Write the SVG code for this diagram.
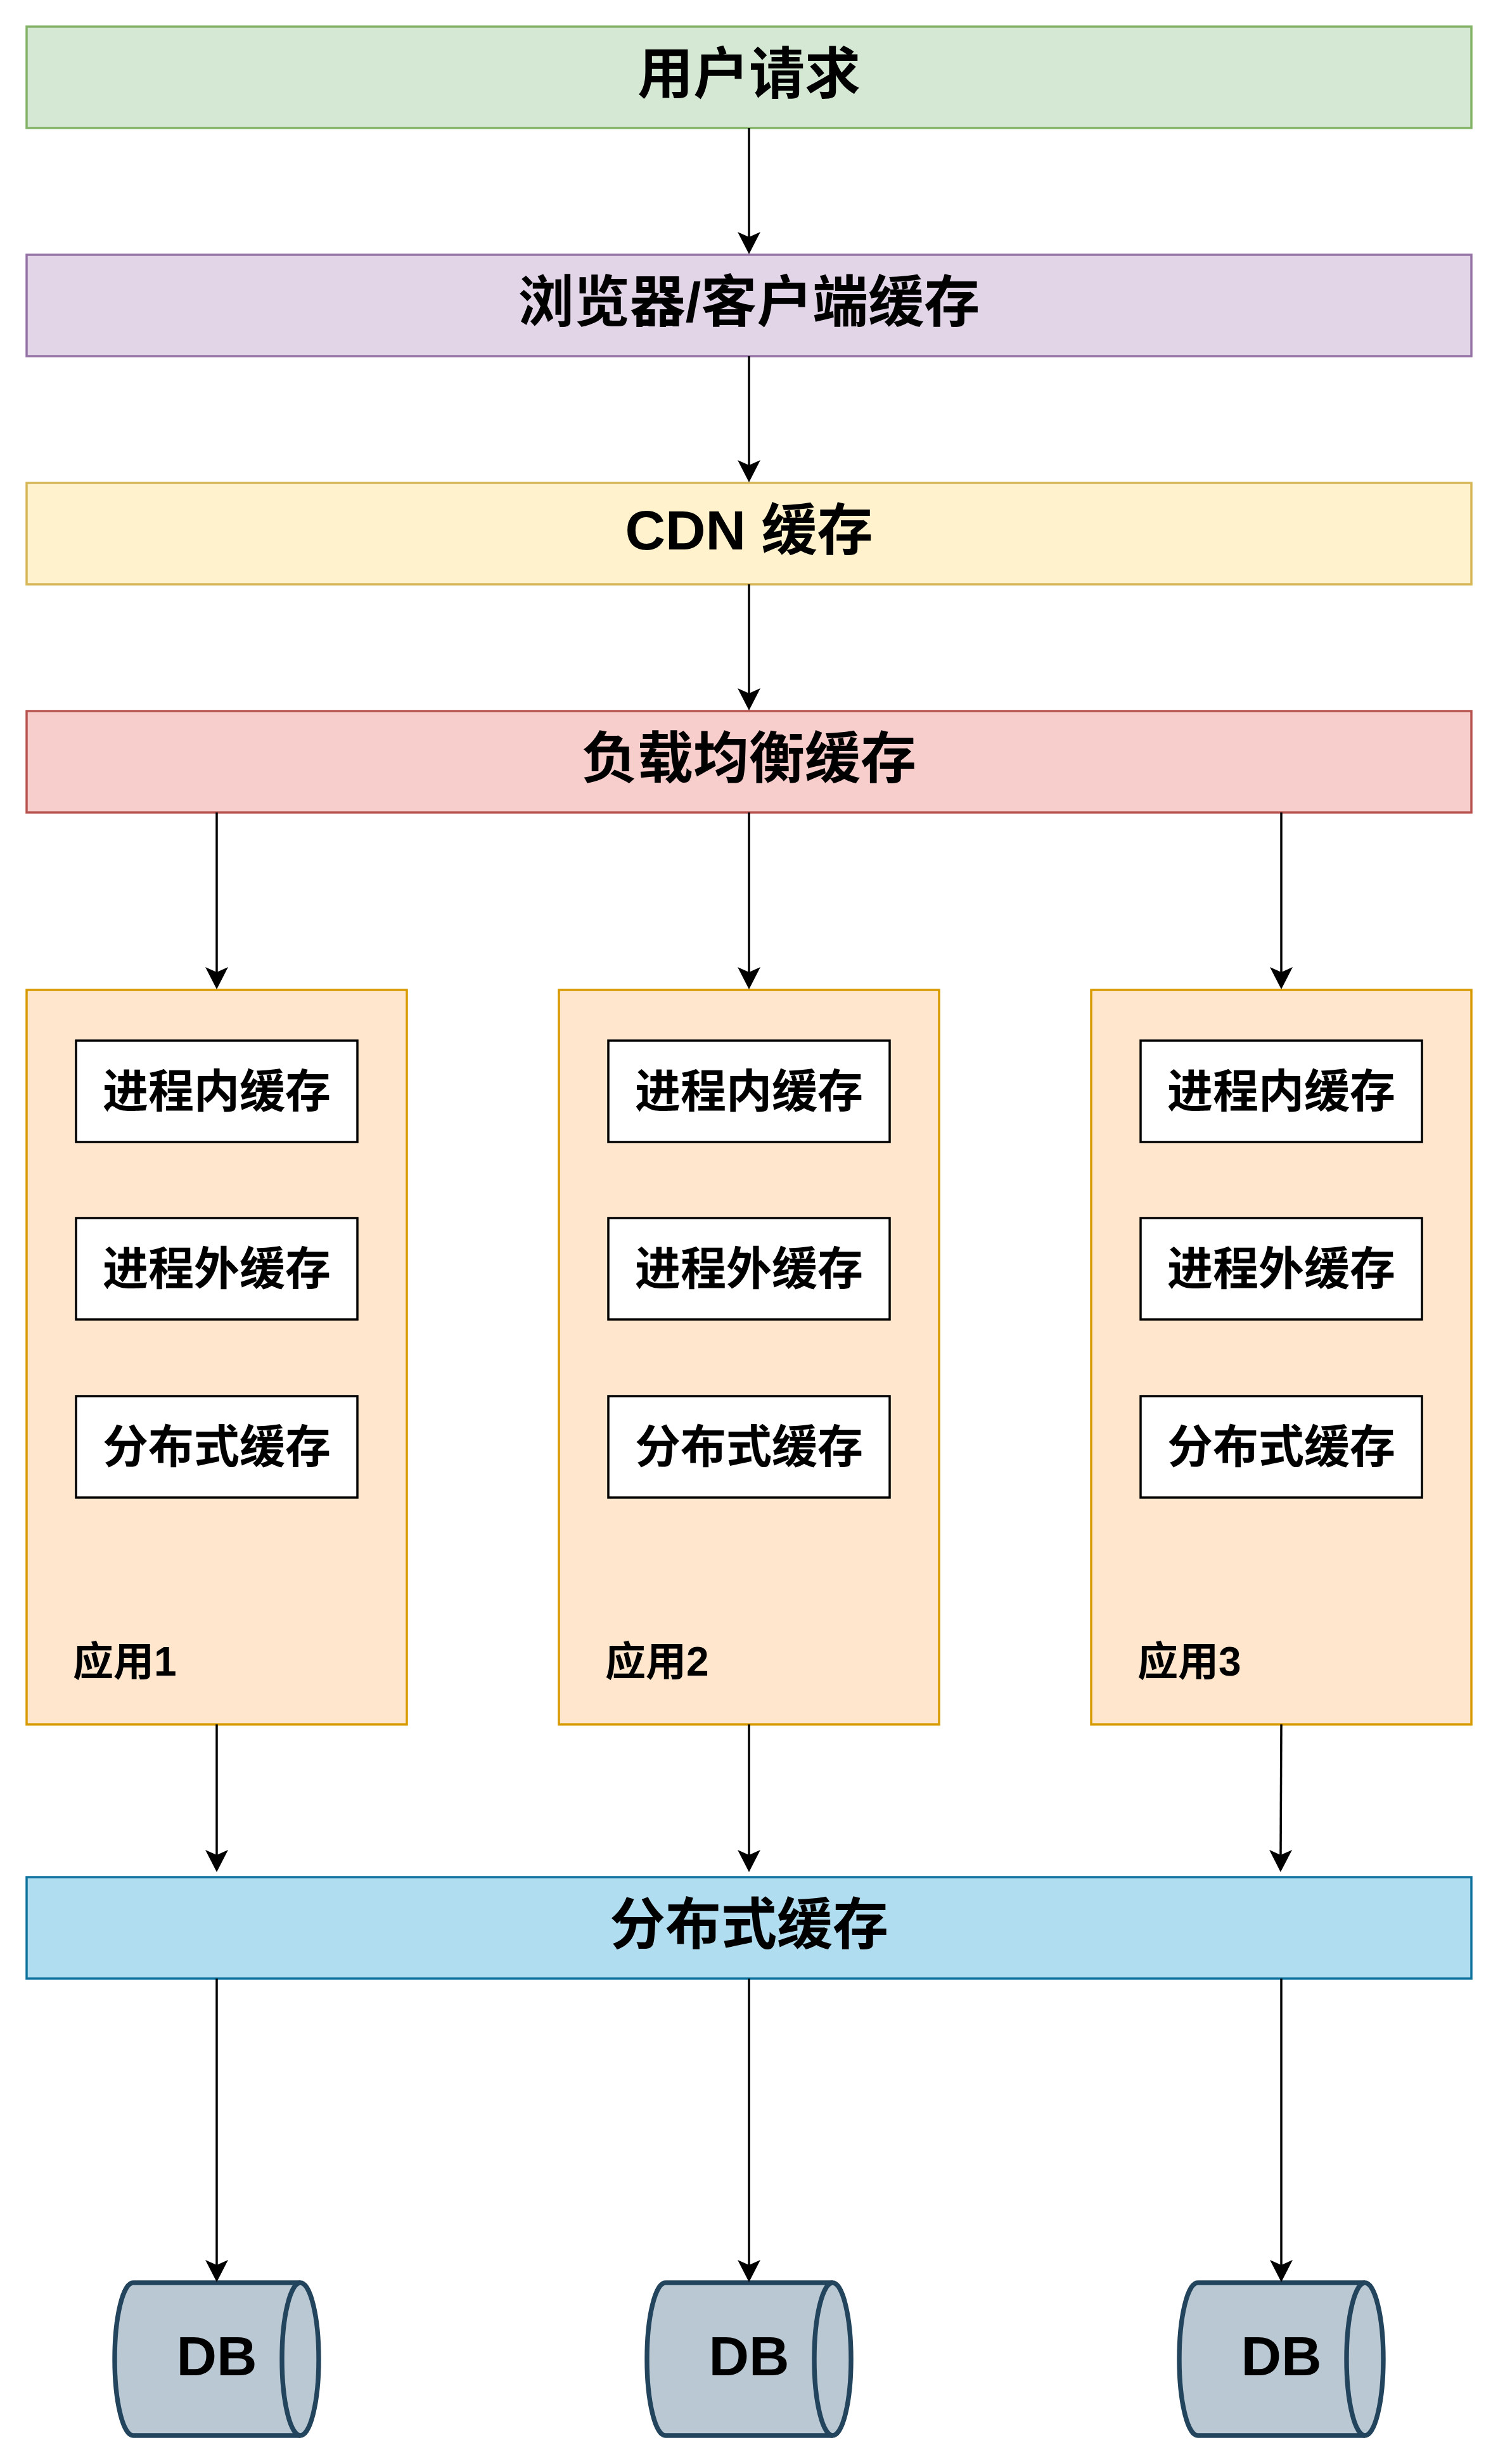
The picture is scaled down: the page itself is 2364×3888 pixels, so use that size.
<svg xmlns="http://www.w3.org/2000/svg" width="2364" height="3888" viewBox="0 0 2364 3888">
  <style>
    .t { font-family: "Liberation Sans", "Noto Sans CJK SC", sans-serif; font-weight: bold; fill: #000000; }
    .big { font-size: 88px; text-anchor: middle; }
    .mid { font-size: 72px; text-anchor: middle; }
    .lbl { font-size: 64px; }
    .box { stroke-width: 3.5; }
    .inner { fill: #ffffff; stroke: #000000; stroke-width: 3.5; }
    .app { fill: #ffe6cc; stroke: #d79b00; stroke-width: 3.5; }
    .db { fill: #bac8d3; stroke: #23445d; stroke-width: 7.4; stroke-linejoin: round; }
    .edge { fill: none; stroke: #000000; stroke-width: 3.5; marker-end: url(#arrow); }
  </style>
  <defs>
    <marker id="arrow" markerUnits="userSpaceOnUse" markerWidth="36" markerHeight="36" viewBox="0 0 36 36" refX="8" refY="18" orient="auto">
      <path d="M0,0 L35,18 L0,36 L8,18 Z" fill="#000000"/>
    </marker>
  </defs>
  <rect width="2364" height="3888" fill="#ffffff"/>

  <g id="user-request">
    <rect class="box" x="42" y="42" width="2280" height="160" fill="#d5e8d4" stroke="#82b366"/>
    <text class="t big" x="1182" y="147">用户请求</text>
  </g>
  <g id="browser-cache">
    <rect class="box" x="42" y="402" width="2280" height="160" fill="#e1d5e7" stroke="#9673a6"/>
    <text class="t big" x="1182" y="507">浏览器/客户端缓存</text>
  </g>
  <g id="cdn-cache">
    <rect class="box" x="42" y="762" width="2280" height="160" fill="#fff2cc" stroke="#d6b656"/>
    <text class="t big" x="1182" y="867">CDN 缓存</text>
  </g>
  <g id="lb-cache">
    <rect class="box" x="42" y="1122" width="2280" height="160" fill="#f8cecc" stroke="#b85450"/>
    <text class="t big" x="1182" y="1227">负载均衡缓存</text>
  </g>

  <g id="app1">
    <rect class="app" x="42" y="1562" width="600" height="1159"/>
    <text class="t lbl" x="115" y="2644">应用1</text>
  </g>
  <g id="app1-inproc">
    <rect class="inner" x="120" y="1642" width="444" height="160"/>
    <text class="t mid" x="342" y="1747">进程内缓存</text>
  </g>
  <g id="app1-outproc">
    <rect class="inner" x="120" y="1922" width="444" height="160"/>
    <text class="t mid" x="342" y="2027">进程外缓存</text>
  </g>
  <g id="app1-dist">
    <rect class="inner" x="120" y="2203" width="444" height="160"/>
    <text class="t mid" x="342" y="2308">分布式缓存</text>
  </g>

  <g id="app2">
    <rect class="app" x="882" y="1562" width="600" height="1159"/>
    <text class="t lbl" x="955" y="2644">应用2</text>
  </g>
  <g id="app2-inproc">
    <rect class="inner" x="960" y="1642" width="444" height="160"/>
    <text class="t mid" x="1182" y="1747">进程内缓存</text>
  </g>
  <g id="app2-outproc">
    <rect class="inner" x="960" y="1922" width="444" height="160"/>
    <text class="t mid" x="1182" y="2027">进程外缓存</text>
  </g>
  <g id="app2-dist">
    <rect class="inner" x="960" y="2203" width="444" height="160"/>
    <text class="t mid" x="1182" y="2308">分布式缓存</text>
  </g>

  <g id="app3">
    <rect class="app" x="1722" y="1562" width="600" height="1159"/>
    <text class="t lbl" x="1795" y="2644">应用3</text>
  </g>
  <g id="app3-inproc">
    <rect class="inner" x="1800" y="1642" width="444" height="160"/>
    <text class="t mid" x="2022" y="1747">进程内缓存</text>
  </g>
  <g id="app3-outproc">
    <rect class="inner" x="1800" y="1922" width="444" height="160"/>
    <text class="t mid" x="2022" y="2027">进程外缓存</text>
  </g>
  <g id="app3-dist">
    <rect class="inner" x="1800" y="2203" width="444" height="160"/>
    <text class="t mid" x="2022" y="2308">分布式缓存</text>
  </g>

  <g id="dist-cache">
    <rect class="box" x="42" y="2962" width="2280" height="160" fill="#b1ddf0" stroke="#10739e"/>
    <text class="t big" x="1182" y="3067">分布式缓存</text>
  </g>

  <g id="db1">
    <path class="db" d="M210,3602 L474,3602 A29,120.5 0 0 1 474,3843 L210,3843 A29,120.5 0 0 1 210,3602 Z"/>
    <path class="db" fill="none" d="M474,3602 A29,120.5 0 0 0 474,3843"/>
    <text class="t big" x="342" y="3748">DB</text>
  </g>
  <g id="db2">
    <path class="db" d="M1050,3602 L1314,3602 A29,120.5 0 0 1 1314,3843 L1050,3843 A29,120.5 0 0 1 1050,3602 Z"/>
    <path class="db" fill="none" d="M1314,3602 A29,120.5 0 0 0 1314,3843"/>
    <text class="t big" x="1182" y="3748">DB</text>
  </g>
  <g id="db3">
    <path class="db" d="M1890,3602 L2154,3602 A29,120.5 0 0 1 2154,3843 L1890,3843 A29,120.5 0 0 1 1890,3602 Z"/>
    <path class="db" fill="none" d="M2154,3602 A29,120.5 0 0 0 2154,3843"/>
    <text class="t big" x="2022" y="3748">DB</text>
  </g>

  <g id="connectors">
    <path class="edge" d="M1182,202 L1182,374"/>
    <path class="edge" d="M1182,562 L1182,734"/>
    <path class="edge" d="M1182,922 L1182,1094"/>
    <path class="edge" d="M342,1282 L342,1534"/>
    <path class="edge" d="M1182,1282 L1182,1534"/>
    <path class="edge" d="M2022,1282 L2022,1534"/>
    <path class="edge" d="M342,2721 L342,2927"/>
    <path class="edge" d="M1182,2721 L1182,2927"/>
    <path class="edge" d="M2022,2721 L2021,2927"/>
    <path class="edge" d="M342,3122 L342,3574"/>
    <path class="edge" d="M1182,3122 L1182,3574"/>
    <path class="edge" d="M2022,3122 L2022,3574"/>
  </g>
</svg>
